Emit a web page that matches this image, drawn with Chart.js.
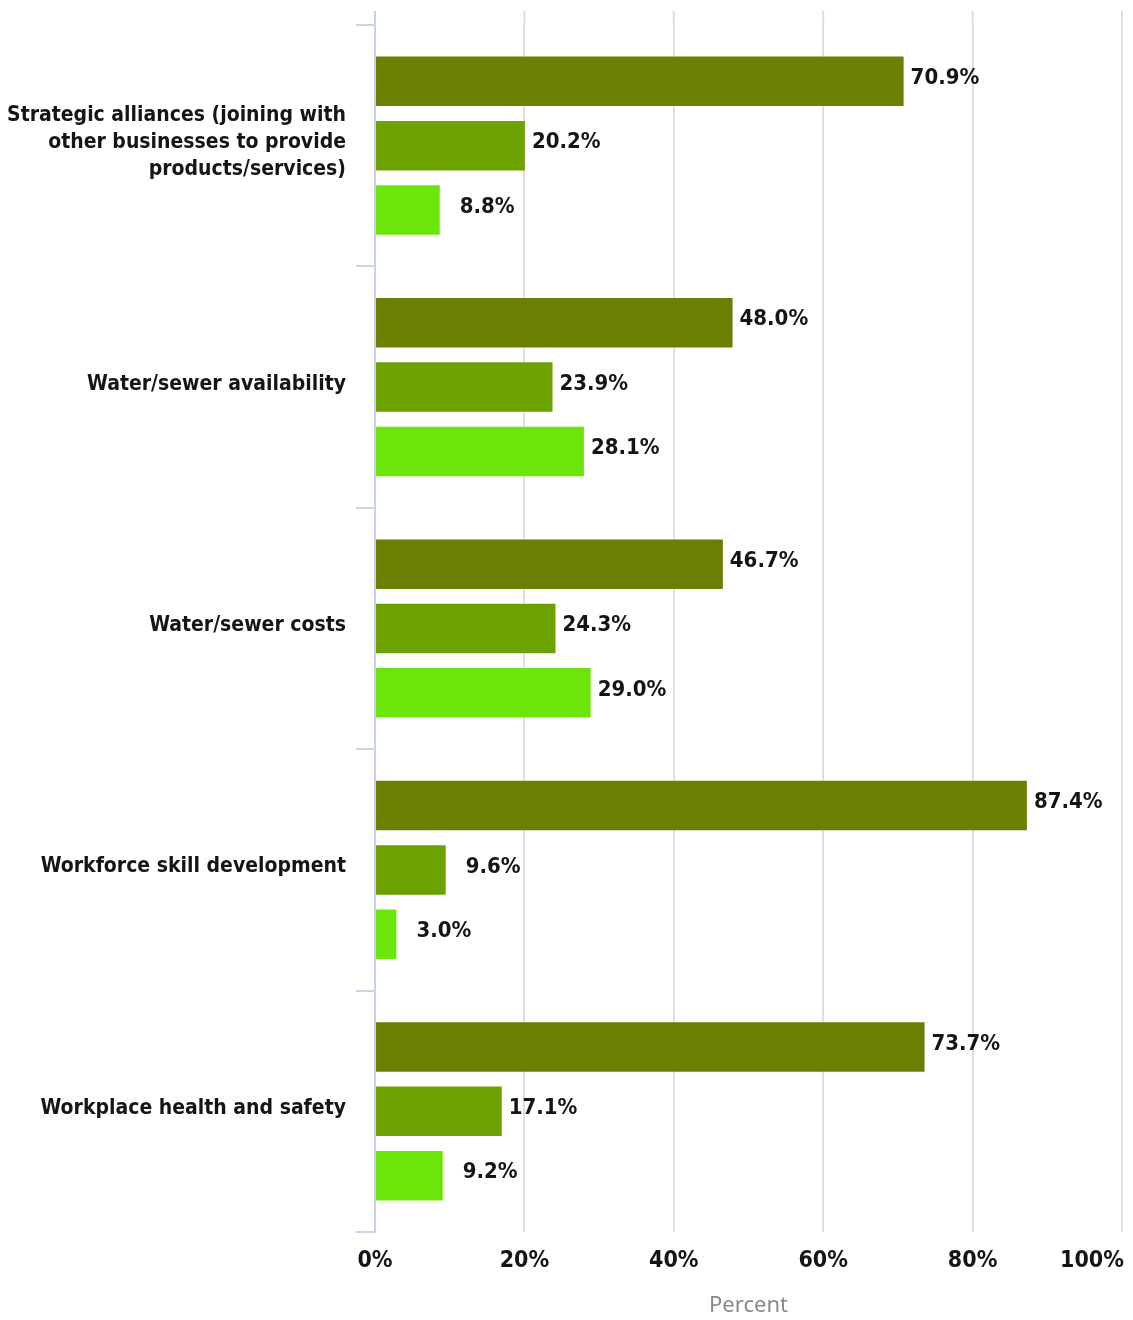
<!DOCTYPE html>
<html>
<head>
<meta charset="utf-8">
<script src="https://cdn.jsdelivr.net/npm/chart.js@4.4.1/dist/chart.umd.min.js"></script>
<style>
  html, body { margin: 0; padding: 0; background: #fff; }
  #wrap { width: 1133px; height: 1320px; }
</style>
</head>
<body>
<div id="wrap"><canvas id="chart" width="1133" height="1320"></canvas></div>
<script>
// chart data
const categories = [
  ['Strategic alliances (joining with', 'other businesses to provide', 'products/services)'],
  'Water/sewer availability',
  'Water/sewer costs',
  'Workforce skill development',
  'Workplace health and safety'
];
const seriesNames = ['Series 1', 'Series 2', 'Series 3'];
const series1 = [70.9, 48.0, 46.7, 87.4, 73.7];
const series2 = [20.2, 23.9, 24.3, 9.6, 17.1];
const series3 = [8.8, 28.1, 29.0, 3.0, 9.2];
const xTicks = [0, 20, 40, 60, 80, 100];

const colors = ['#6c7f03', '#6ca200', '#6ce60a'];
const labelFont = "'DejaVu Sans Condensed', 'DejaVu Sans', sans-serif";

// value labels at the end of each bar
const barLabels = {
  id: 'barLabels',
  afterDatasetsDraw(chart) {
    const ctx = chart.ctx;
    ctx.save();
    ctx.font = 'bold 22px ' + labelFont;
    ctx.fillStyle = '#151515';
    ctx.textBaseline = 'middle';
    ctx.textAlign = 'left';
    chart.data.datasets.forEach((ds, i) => {
      chart.getDatasetMeta(i).data.forEach((bar, j) => {
        const v = ds.data[j];
        const off = v < 12 ? 19 : 6;
        ctx.fillText(v.toFixed(1) + '%', bar.x + off, bar.y - 3);
      });
    });
    ctx.restore();
  }
};

// x tick labels (last one kept inside the canvas) and grid stubs above the plot
const axisExtras = {
  id: 'axisExtras',
  beforeDatasetsDraw(chart) {
    const ctx = chart.ctx;
    const x = chart.scales.x;
    const area = chart.chartArea;
    ctx.save();
    ctx.lineWidth = 2;
    ctx.strokeStyle = '#dedede';
    xTicks.forEach(t => {
      if (t === 0) return;
      const px = x.getPixelForValue(t);
      ctx.beginPath();
      ctx.moveTo(px, 11);
      ctx.lineTo(px, area.top);
      ctx.stroke();
    });
    ctx.strokeStyle = '#c6d3e6';
    ctx.beginPath();
    ctx.moveTo(area.left, 11);
    ctx.lineTo(area.left, area.top);
    ctx.stroke();
    ctx.restore();
  },
  afterDraw(chart) {
    const ctx = chart.ctx;
    const x = chart.scales.x;
    ctx.save();
    ctx.font = 'bold 23px ' + labelFont;
    ctx.fillStyle = '#151515';
    ctx.textBaseline = 'middle';
    xTicks.forEach(t => {
      const txt = t + '%';
      const w = ctx.measureText(txt).width;
      let left = x.getPixelForValue(t) - w / 2;
      if (left + w > chart.width - 9) left = chart.width - 9 - w;
      ctx.textAlign = 'left';
      ctx.fillText(txt, left, 1261);
    });
    ctx.restore();
  }
};

new Chart(document.getElementById('chart'), {
  type: 'bar',
  data: {
    labels: categories,
    datasets: [series1, series2, series3].map((d, i) => ({
      label: seriesNames[i],
      data: d,
      backgroundColor: colors[i],
      borderColor: 'rgba(255,255,255,0.45)',
      borderWidth: 1,
      categoryPercentage: 0.8,
      barPercentage: 0.8
    }))
  },
  options: {
    indexAxis: 'y',
    responsive: false,
    animation: false,
    layout: { padding: { top: 25, right: 11, left: 0, bottom: 0 } },
    plugins: {
      legend: { display: false },
      tooltip: { enabled: false }
    },
    scales: {
      x: {
        min: 0,
        max: 100,
        ticks: { stepSize: 20, display: false },
        grid: { color: '#dedede', lineWidth: 2, drawTicks: false },
        border: { display: false },
        title: {
          display: true,
          text: 'Percent',
          color: '#8a8a8a',
          font: { family: "'Noto Sans', sans-serif", size: 22 },
          padding: { top: 0, bottom: 1 }
        },
        afterFit(s) { s.height = 88; }
      },
      y: {
        ticks: {
          color: '#151515',
          padding: 10,
          labelOffset: -3,
          font: { family: labelFont, size: 21, weight: 'bold', lineHeight: 1.27 }
        },
        grid: { drawOnChartArea: false, color: '#c9d5e6', lineWidth: 2, tickLength: 19, offset: true },
        border: { display: true, color: '#c6d3e6', width: 2 },
        afterFit(s) { s.width = 375; }
      }
    }
  },
  plugins: [barLabels, axisExtras]
});
</script>
</body>
</html>
